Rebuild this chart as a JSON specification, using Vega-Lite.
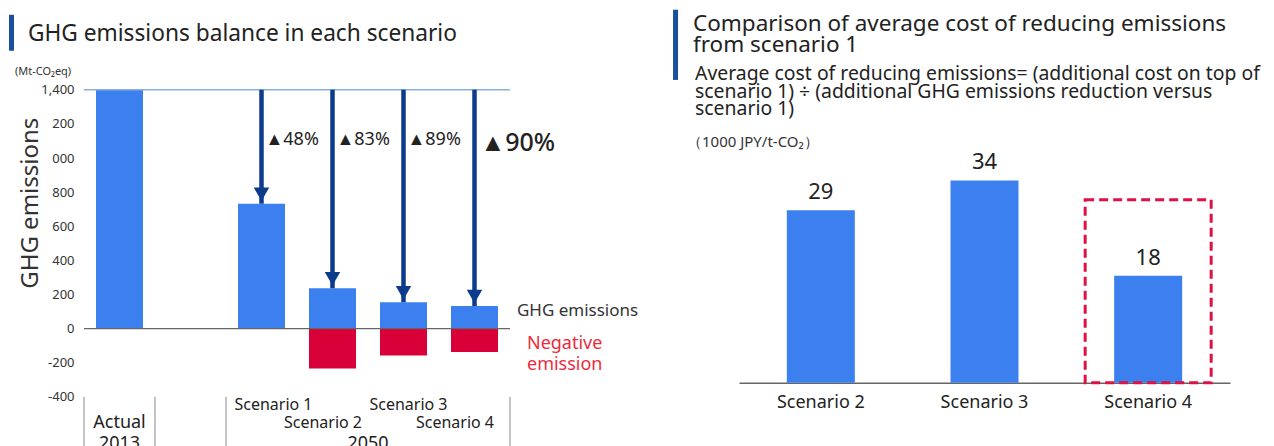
{
  "$schema": "https://vega.github.io/schema/vega-lite/v6.json",
  "background": "white",
  "padding": {"left": 9, "top": 6.8, "right": 0, "bottom": 0},
  "spacing": 229,
  "bounds": "flush",
  "align": "none",
  "config": {
    "view": {"stroke": null},
    "font": "Noto Sans",
    "text": {"font": "Noto Sans", "color": "#222"},
    "axis": {"labelOverlap": false},
    "axisY": {"labelOverlap": false},
    "axisQuantitative": {"labelOverlap": false}
  },
  "datasets": {
    "ghg": [
      {"case": "Actual", "emissions": 1400, "negative": 0, "from": 1400, "cut": ""},
      {"case": "Scenario 1", "emissions": 732, "negative": 0, "from": 1400, "cut": "▲48%"},
      {"case": "Scenario 2", "emissions": 236, "negative": -234, "from": 1400, "cut": "▲83%"},
      {"case": "Scenario 3", "emissions": 154, "negative": -158, "from": 1400, "cut": "▲89%"},
      {"case": "Scenario 4", "emissions": 132, "negative": -137, "from": 1400, "cut": "▲90%"}
    ],
    "cost": [
      {"case": "Scenario 2", "cost": 29},
      {"case": "Scenario 3", "cost": 34},
      {"case": "Scenario 4", "cost": 18}
    ],
    "one": [{}]
  },
  "hconcat": [
    {
      "width": 426,
      "height": 307,
      "data": {"name": "ghg"},
      "layer": [
        {
          "mark": {"type": "bar", "size": 47, "color": "#3b80ee"},
          "encoding": {
            "x": {"field": "case", "type": "nominal", "scale": {"domain": ["Actual", "gap", "Scenario 1", "Scenario 2", "Scenario 3", "Scenario 4"], "paddingInner": 0, "paddingOuter": 0}, "axis": null},
            "y": {
              "field": "emissions", "type": "quantitative",
              "scale": {"domain": [-400, 1400], "nice": false, "zero": false},
              "axis": {
                "values": [-400, -200, 0, 200, 400, 600, 800, 1000, 1200, 1400],
                "tickCount": 10,
                "labelExpr": "datum.value == 1400 ? '1,400' : datum.value == 1200 ? '200' : datum.value == 1000 ? '000' : '' + datum.value",
                "labelOverlap": false,
                "labelSeparation": 0,
                "ticks": false, "domain": false, "grid": false,
                "labelPadding": 10, "labelFontSize": 13, "labelColor": "#333", "labelFont": "Noto Sans",
                "title": "GHG emissions", "titleFontSize": 24, "titleFontWeight": "normal", "titleColor": "#333", "titleFont": "Noto Sans",
                "titleAngle": -90, "titleX": -54, "titleY": 113, "titleAlign": "center", "titleBaseline": "middle"
              }
            }
          }
        },
        {
          "transform": [{"filter": "datum.negative < 0"}],
          "mark": {"type": "bar", "size": 47, "color": "#d9003a"},
          "encoding": {
            "x": {"field": "case", "type": "nominal"},
            "y": {"field": "negative", "type": "quantitative"}
          }
        },
        {
          "data": {"name": "one"},
          "mark": {"type": "rule", "color": "#8aaedb", "strokeWidth": 1.5},
          "encoding": {"y": {"datum": 1400, "type": "quantitative"}}
        },
        {
          "data": {"name": "one"},
          "mark": {"type": "rule", "color": "#666", "strokeWidth": 1.2},
          "encoding": {"y": {"datum": 0, "type": "quantitative"}}
        },
        {
          "transform": [{"filter": "datum.case != 'Actual'"}],
          "mark": {"type": "rule", "color": "#0c3b8e", "strokeWidth": 4.5},
          "encoding": {
            "x": {"field": "case", "type": "nominal"},
            "y": {"field": "from", "type": "quantitative"},
            "y2": {"field": "emissions"}
          }
        },
        {
          "transform": [{"filter": "datum.case != 'Actual'"}],
          "mark": {"type": "point", "shape": "triangle-down", "size": 240, "filled": true, "opacity": 1, "color": "#0c3b8e", "yOffset": -9.5},
          "encoding": {
            "x": {"field": "case", "type": "nominal"},
            "y": {"field": "emissions", "type": "quantitative"}
          }
        },
        {
          "transform": [{"filter": "datum.case != 'Actual' && datum.case != 'Scenario 4'"}],
          "mark": {"type": "text", "align": "left", "baseline": "middle", "dx": 4, "fontSize": 18},
          "encoding": {
            "x": {"field": "case", "type": "nominal"},
            "y": {"datum": 1107, "type": "quantitative"},
            "text": {"field": "cut", "type": "nominal"}
          }
        },
        {
          "transform": [{"filter": "datum.case == 'Scenario 4'"}],
          "mark": {"type": "text", "align": "left", "baseline": "middle", "dx": 6, "fontSize": 25, "fontWeight": 500},
          "encoding": {
            "x": {"field": "case", "type": "nominal"},
            "y": {"datum": 1089, "type": "quantitative"},
            "text": {"field": "cut", "type": "nominal"}
          }
        },
        {
          "data": {"name": "one"},
          "mark": {"type": "text", "text": "GHG emissions", "align": "left", "baseline": "middle", "dx": 42.5, "fontSize": 17, "color": "#333"},
          "encoding": {"x": {"datum": "Scenario 4", "type": "nominal"}, "y": {"datum": 104, "type": "quantitative"}}
        },
        {
          "data": {"name": "one"},
          "mark": {"type": "text", "text": ["Negative", "emission"], "align": "left", "baseline": "top", "dx": 52.5, "fontSize": 18, "lineHeight": 21, "color": "#ee2a3c"},
          "encoding": {"x": {"datum": "Scenario 4", "type": "nominal"}, "y": {"datum": -36, "type": "quantitative"}}
        },
        {
          "data": {"name": "one"},
          "mark": {"type": "rule", "color": "#888", "strokeWidth": 1, "xOffset": -35.5},
          "encoding": {"x": {"datum": "Actual", "type": "nominal"}, "y": {"datum": -400, "type": "quantitative"}, "y2": {"datum": -760}}
        },
        {
          "data": {"name": "one"},
          "mark": {"type": "rule", "color": "#888", "strokeWidth": 1, "xOffset": 35.5},
          "encoding": {"x": {"datum": "Actual", "type": "nominal"}, "y": {"datum": -400, "type": "quantitative"}, "y2": {"datum": -760}}
        },
        {
          "data": {"name": "one"},
          "mark": {"type": "rule", "color": "#888", "strokeWidth": 1, "xOffset": -35.5},
          "encoding": {"x": {"datum": "Scenario 1", "type": "nominal"}, "y": {"datum": -400, "type": "quantitative"}, "y2": {"datum": -760}}
        },
        {
          "data": {"name": "one"},
          "mark": {"type": "rule", "color": "#888", "strokeWidth": 1, "xOffset": 35.5},
          "encoding": {"x": {"datum": "Scenario 4", "type": "nominal"}, "y": {"datum": -400, "type": "quantitative"}, "y2": {"datum": -760}}
        },
        {
          "data": {"name": "one"},
          "mark": {"type": "text", "text": "Actual", "align": "center", "baseline": "middle", "fontSize": 18},
          "encoding": {"x": {"datum": "Actual", "type": "nominal"}, "y": {"datum": -552, "type": "quantitative"}}
        },
        {
          "data": {"name": "one"},
          "mark": {"type": "text", "text": "2013", "align": "center", "baseline": "middle", "fontSize": 18},
          "encoding": {"x": {"datum": "Actual", "type": "nominal"}, "y": {"datum": -675, "type": "quantitative"}}
        },
        {
          "data": {"name": "one"},
          "mark": {"type": "text", "text": "2050", "align": "center", "baseline": "middle", "fontSize": 18, "dx": -35.5},
          "encoding": {"x": {"datum": "Scenario 3", "type": "nominal"}, "y": {"datum": -675, "type": "quantitative"}}
        },
        {
          "transform": [{"filter": "datum.case == 'Scenario 1'"}],
          "mark": {"type": "text", "align": "center", "baseline": "middle", "fontSize": 16, "dx": 12},
          "encoding": {"x": {"field": "case", "type": "nominal"}, "y": {"datum": -447, "type": "quantitative"}, "text": {"field": "case", "type": "nominal"}}
        },
        {
          "transform": [{"filter": "datum.case == 'Scenario 2'"}],
          "mark": {"type": "text", "align": "center", "baseline": "middle", "fontSize": 16, "dx": -9.5},
          "encoding": {"x": {"field": "case", "type": "nominal"}, "y": {"datum": -552, "type": "quantitative"}, "text": {"field": "case", "type": "nominal"}}
        },
        {
          "transform": [{"filter": "datum.case == 'Scenario 3'"}],
          "mark": {"type": "text", "align": "center", "baseline": "middle", "fontSize": 16, "dx": 5},
          "encoding": {"x": {"field": "case", "type": "nominal"}, "y": {"datum": -447, "type": "quantitative"}, "text": {"field": "case", "type": "nominal"}}
        },
        {
          "transform": [{"filter": "datum.case == 'Scenario 4'"}],
          "mark": {"type": "text", "align": "center", "baseline": "middle", "fontSize": 16, "dx": -19.5},
          "encoding": {"x": {"field": "case", "type": "nominal"}, "y": {"datum": -552, "type": "quantitative"}, "text": {"field": "case", "type": "nominal"}}
        },
        {
          "data": {"name": "one"},
          "mark": {"type": "rule", "color": "#1a4f9f", "strokeWidth": 5, "xOffset": -108},
          "encoding": {"x": {"datum": "Actual", "type": "nominal"}, "y": {"datum": 1840, "type": "quantitative"}, "y2": {"datum": 1629}}
        },
        {
          "data": {"name": "one"},
          "mark": {"type": "text", "text": "GHG emissions balance in each scenario", "align": "left", "baseline": "middle", "dx": -91.5, "fontSize": 22.7},
          "encoding": {"x": {"datum": "Actual", "type": "nominal"}, "y": {"datum": 1728, "type": "quantitative"}}
        },
        {
          "data": {"name": "one"},
          "mark": {"type": "text", "text": "(Mt-CO₂eq)", "align": "left", "baseline": "middle", "dx": -104.5, "fontSize": 11, "color": "#333"},
          "encoding": {"x": {"datum": "Actual", "type": "nominal"}, "y": {"datum": 1506, "type": "quantitative"}}
        }
      ]
    },
    {
      "width": 491,
      "height": 293,
      "data": {"name": "cost"},
      "layer": [
        {
          "mark": {"type": "bar", "size": 68, "color": "#3b80ee"},
          "encoding": {
            "x": {
              "field": "case", "type": "nominal",
              "scale": {"paddingInner": 0, "paddingOuter": 0},
              "axis": {"title": null, "ticks": false, "labelAngle": 0, "labelPadding": 11, "labelFontSize": 18, "labelColor": "#222", "labelFont": "Noto Sans", "domainColor": "#666", "domainWidth": 1.5}
            },
            "y": {"field": "cost", "type": "quantitative", "scale": {"domain": [0, 49.24], "nice": false}, "axis": null}
          }
        },
        {
          "mark": {"type": "text", "baseline": "middle", "dy": -18, "fontSize": 22},
          "encoding": {
            "x": {"field": "case", "type": "nominal"},
            "y": {"field": "cost", "type": "quantitative"},
            "text": {"field": "cost", "type": "quantitative"}
          }
        },
        {
          "transform": [{"filter": "datum.case == 'Scenario 4'"}],
          "mark": {"type": "rect", "filled": false, "width": 126, "color": "#dd1144", "strokeWidth": 3, "strokeDash": [9, 5]},
          "encoding": {"x": {"field": "case", "type": "nominal"}, "y": {"datum": 30.76, "type": "quantitative"}, "y2": {"datum": 0}}
        },
        {
          "data": {"name": "one"},
          "mark": {"type": "rule", "color": "#1a4f9f", "strokeWidth": 5, "xOffset": -145.3},
          "encoding": {"x": {"datum": "Scenario 2", "type": "nominal"}, "y": {"datum": 62.7, "type": "quantitative"}, "y2": {"datum": 50.9}}
        },
        {
          "data": {"name": "one"},
          "mark": {"type": "text", "text": ["Comparison of average cost of reducing emissions", "from scenario 1"], "align": "left", "baseline": "top", "dx": -127.8, "fontSize": 22.5, "lineHeight": 20.5},
          "encoding": {"x": {"datum": "Scenario 2", "type": "nominal"}, "y": {"datum": 62.1, "type": "quantitative"}}
        },
        {
          "data": {"name": "one"},
          "mark": {"type": "text", "text": ["Average cost of reducing emissions= (additional cost on top of", "scenario 1) ÷ (additional GHG emissions reduction versus", "scenario 1)"], "align": "left", "baseline": "top", "dx": -125.8, "fontSize": 19.4, "lineHeight": 17.7},
          "encoding": {"x": {"datum": "Scenario 2", "type": "nominal"}, "y": {"datum": 53.4, "type": "quantitative"}}
        },
        {
          "data": {"name": "one"},
          "mark": {"type": "text", "text": "（1000 JPY/t-CO₂）", "align": "left", "baseline": "middle", "dx": -133.8, "fontSize": 15, "color": "#333"},
          "encoding": {"x": {"datum": "Scenario 2", "type": "nominal"}, "y": {"datum": 40.5, "type": "quantitative"}}
        }
      ]
    }
  ]
}
